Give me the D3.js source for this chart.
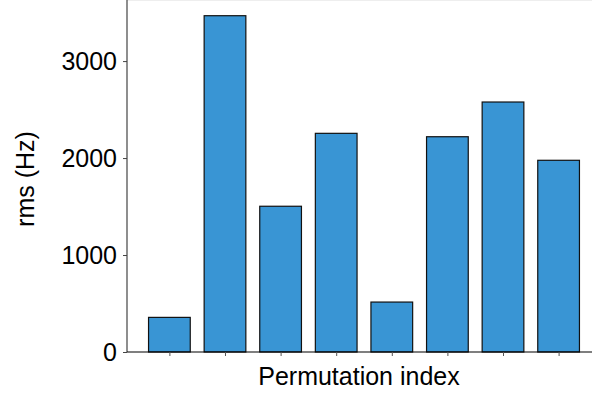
<!DOCTYPE html>
<html>
<head>
<meta charset="utf-8">
<script src="https://cdn.jsdelivr.net/npm/d3@7"></script>
<style>
  body { margin: 0; background: #fff; }
  svg { display: block; font-family: "Liberation Sans", Arial, Helvetica, sans-serif; }
</style>
</head>
<body>
<div id="chart"></div>
<script>
// rms per permutation
const permutations = [0, 1, 2, 3, 4, 5, 6, 7];
const rmsValues = [357, 3468, 1503, 2255, 515, 2220, 2578, 1977];
const yTicks = [0, 1000, 2000, 3000];

const width = 592, height = 397;
const yMax = 3630;

const svg = d3
  .select("#chart")
  .append("svg")
  .attr("width", width)
  .attr("height", height);

// matplotlib-like limits: bars of width 0.75 plus 5% margin
const x = d3.scaleLinear().domain([-0.7625, 7.7625]).range([127, 601]);
const y = d3.scaleLinear().domain([0, yMax]).range([352, 0]);
const barW = x(0.75) - x(0);

// faint top edge
svg.append("line")
  .attr("x1", 127).attr("x2", width)
  .attr("y1", 0.5).attr("y2", 0.5)
  .attr("stroke", "#eeeeee");

// bars
svg.selectAll("rect.bar")
  .data(permutations)
  .join("rect")
  .attr("class", "bar")
  .attr("x", (d) => x(d) - barW / 2)
  .attr("y", (d, i) => y(rmsValues[i]))
  .attr("width", barW)
  .attr("height", (d, i) => y(0) - y(rmsValues[i]))
  .attr("fill", "#3995d4")
  .attr("stroke", "#111")
  .attr("stroke-width", 1.2);

// y axis
const yAxis = svg.append("g")
  .attr("transform", `translate(${x.range()[0]}, 0)`)
  .call(d3.axisLeft(y).tickValues(yTicks).tickSize(4).tickPadding(6).tickFormat(d3.format("d")));
yAxis.select(".domain").attr("d", `M0,${y(yMax)}V${y(0)}`).attr("stroke", "#444").attr("stroke-width", 1.2);
yAxis.selectAll(".tick line").attr("stroke", "#444");
yAxis.selectAll("text").style("font-size", "25px").attr("fill", "#000");

// x axis (ticks only, no labels)
const xAxis = svg.append("g")
  .attr("transform", `translate(0, ${y(0)})`)
  .call(d3.axisBottom(x).tickValues(permutations).tickSize(4).tickFormat(""));
xAxis.select(".domain").attr("d", `M${x.range()[0]},0H${width}`).attr("stroke", "#000").attr("stroke-width", 1.2);
xAxis.selectAll(".tick line").attr("stroke", "#555");

// axis labels
svg.append("text")
  .attr("x", 359)
  .attr("y", 385)
  .attr("text-anchor", "middle")
  .style("font-size", "25px")
  .text("Permutation index");

svg.append("text")
  .attr("transform", "translate(34, 179) rotate(-90)")
  .attr("text-anchor", "middle")
  .style("font-size", "25px")
  .text("rms (Hz)");
</script>
</body>
</html>
